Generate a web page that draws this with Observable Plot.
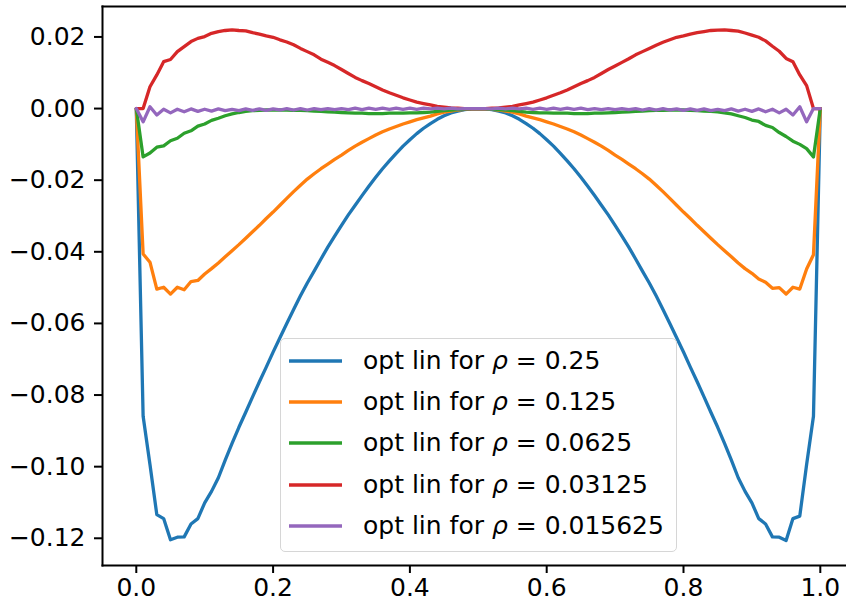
<!DOCTYPE html>
<html>
<head>
<meta charset="utf-8">
<script src="https://cdn.jsdelivr.net/npm/d3@7"></script>
<script src="https://cdn.jsdelivr.net/npm/@observablehq/plot@0.6"></script>
<style>
  html, body { margin: 0; padding: 0; background: #fff; }
  #wrap { position: relative; width: 846px; height: 601px; font-family: "DejaVu Sans", sans-serif; }
  #legend { position: absolute; left: 280px; top: 338px; width: 395px; height: 212px;
            border: 1.6px solid #d6d6d6; border-radius: 5px; background: rgba(255,255,255,0.85); }
  .row { position: absolute; left: 0; height: 30px; }
  .row svg { position: absolute; left: 7px; top: 0; }
  .row span { position: absolute; left: 82px; top: 0; white-space: nowrap; font-size: 25px; color: #000; line-height: 30px; }
</style>
</head>
<body>
<div id="wrap"><div id="legend"></div></div>
<script>
const xs = [0,0.01,0.02,0.03,0.04,0.05,0.06,0.07,0.08,0.09,
0.1,0.11,0.12,0.13,0.14,0.15,0.16,0.17,0.18,0.19,
0.2,0.21,0.22,0.23,0.24,0.25,0.26,0.27,0.28,0.29,
0.3,0.31,0.32,0.33,0.34,0.35,0.36,0.37,0.38,0.39,
0.4,0.41,0.42,0.43,0.44,0.45,0.46,0.47,0.48,0.49,
0.5,
0.51,0.52,0.53,0.54,0.55,0.56,0.57,0.58,0.59,0.6,
0.61,0.62,0.63,0.64,0.65,0.66,0.67,0.68,0.69,0.7,
0.71,0.72,0.73,0.74,0.75,0.76,0.77,0.78,0.79,0.8,
0.81,0.82,0.83,0.84,0.85,0.86,0.87,0.88,0.89,0.9,
0.91,0.92,0.93,0.94,0.95,0.96,0.97,0.98,0.99,1.0];

const rho025 = [0,-0.0859,-0.0994,-0.1134,-0.1145,-0.1204,-0.1197,-0.1196,-0.1160,-0.1145,
-0.1101,-0.1069,-0.1031,-0.0982,-0.0935,-0.0890,-0.0848,-0.0805,-0.0763,-0.0722,
-0.0680,-0.0640,-0.0600,-0.0561,-0.0523,-0.0487,-0.0454,-0.0420,-0.0387,-0.0356,
-0.0326,-0.0297,-0.0270,-0.0243,-0.0217,-0.0192,-0.0168,-0.0146,-0.0125,-0.0105,
-0.0087,-0.0070,-0.0055,-0.0042,-0.0030,-0.0020,-0.0012,-0.0007,-0.0003,-0.0001,
0,
-0.0001,-0.0003,-0.0007,-0.0012,-0.0020,-0.0030,-0.0042,-0.0055,-0.0070,-0.0087,
-0.0105,-0.0125,-0.0146,-0.0168,-0.0192,-0.0217,-0.0243,-0.0270,-0.0297,-0.0326,
-0.0356,-0.0387,-0.0420,-0.0454,-0.0487,-0.0523,-0.0561,-0.0600,-0.0640,-0.0680,
-0.0722,-0.0763,-0.0805,-0.0848,-0.0890,-0.0935,-0.0982,-0.1031,-0.1069,-0.1101,
-0.1145,-0.1160,-0.1196,-0.1197,-0.1206,-0.1145,-0.1138,-0.0994,-0.0859,0];

const rho0125 = [0,-0.0406,-0.0429,-0.0504,-0.0499,-0.0518,-0.0499,-0.0506,-0.0483,-0.0480,
-0.0462,-0.0447,-0.0431,-0.0414,-0.0397,-0.0380,-0.0362,-0.0344,-0.0326,-0.0307,
-0.0289,-0.0270,-0.0251,-0.0232,-0.0214,-0.0197,-0.0182,-0.0168,-0.0155,-0.0142,
-0.0130,-0.0117,-0.0105,-0.0094,-0.0084,-0.0074,-0.0065,-0.0057,-0.0050,-0.0043,
-0.0037,-0.0031,-0.0026,-0.0021,-0.0015,-0.0010,-0.0007,-0.0004,-0.0002,-0.0001,
0,
-0.0001,-0.0002,-0.0004,-0.0007,-0.0010,-0.0015,-0.0021,-0.0026,-0.0031,-0.0037,
-0.0043,-0.0050,-0.0057,-0.0065,-0.0074,-0.0084,-0.0094,-0.0105,-0.0117,-0.0130,
-0.0142,-0.0155,-0.0168,-0.0182,-0.0197,-0.0214,-0.0232,-0.0251,-0.0270,-0.0289,
-0.0307,-0.0326,-0.0344,-0.0362,-0.0380,-0.0397,-0.0414,-0.0431,-0.0447,-0.0460,
-0.0476,-0.0485,-0.0502,-0.0500,-0.0518,-0.0499,-0.0504,-0.0448,-0.0408,0];

const rho00625 = [0,-0.0135,-0.0124,-0.0108,-0.0104,-0.0090,-0.0083,-0.0069,-0.0062,-0.0049,
-0.0043,-0.0033,-0.0027,-0.0020,-0.0015,-0.0011,-0.0008,-0.0006,-0.0005,-0.0004,
-0.0004,-0.0004,-0.0004,-0.0005,-0.0005,-0.0006,-0.0007,-0.0008,-0.0009,-0.0010,
-0.0011,-0.0012,-0.0013,-0.0013,-0.0014,-0.0014,-0.0014,-0.0013,-0.0013,-0.0013,
-0.0012,-0.0012,-0.0011,-0.0010,-0.0008,-0.0006,-0.0004,-0.0003,-0.0002,-0.0001,
0,
-0.0001,-0.0002,-0.0003,-0.0004,-0.0006,-0.0008,-0.0010,-0.0011,-0.0012,-0.0012,
-0.0013,-0.0013,-0.0013,-0.0014,-0.0014,-0.0014,-0.0013,-0.0013,-0.0012,-0.0011,
-0.0010,-0.0009,-0.0008,-0.0007,-0.0006,-0.0005,-0.0005,-0.0004,-0.0004,-0.0004,
-0.0005,-0.0006,-0.0007,-0.0008,-0.0009,-0.0012,-0.0015,-0.0020,-0.0025,-0.0032,
-0.0036,-0.0047,-0.0053,-0.0067,-0.0078,-0.0091,-0.0100,-0.0112,-0.0135,0];

const rho003125 = [0,0,0.0061,0.0094,0.0131,0.0137,0.0159,0.0173,0.0187,0.0196,
0.0201,0.0210,0.0215,0.0218,0.0220,0.0218,0.0217,0.0212,0.0208,0.0203,
0.0199,0.0192,0.0186,0.0178,0.0168,0.0159,0.0150,0.0138,0.0129,0.0120,
0.0109,0.0098,0.0087,0.0078,0.0070,0.0061,0.0052,0.0044,0.0037,0.0030,
0.0024,0.0018,0.0014,0.0010,0.0006,0.0004,0.0002,0.0001,0,0,
0,
0,0.0001,0.0002,0.0004,0.0006,0.0010,0.0014,0.0018,0.0024,0.0030,
0.0037,0.0044,0.0052,0.0061,0.0070,0.0078,0.0087,0.0098,0.0109,0.0119,
0.0129,0.0139,0.0150,0.0159,0.0168,0.0177,0.0185,0.0192,0.0199,0.0203,
0.0208,0.0212,0.0215,0.0218,0.0219,0.0220,0.0218,0.0216,0.0211,0.0205,
0.0199,0.0189,0.0174,0.0160,0.0140,0.0131,0.0094,0.0064,0,0];

const rho0015625 = [0,-0.0037,0.0005,-0.0018,-0.0002,-0.0012,-0.0002,-0.0009,-0.0001,-0.0008,
-0.0002,-0.0007,-0.0001,-0.0006,-0.0002,-0.0006,-0.0001,-0.0005,-0.0001,-0.0005,
-0.0001,-0.0004,0,-0.0004,0,-0.0004,0,-0.0003,0,-0.0003,
0,-0.0003,0.0001,-0.0003,0.0001,-0.0002,0.0001,-0.0002,0.0001,-0.0002,
0.0001,-0.0002,0.0001,-0.0001,0.0001,-0.0001,0.0001,-0.0001,0,0,
0,
0,-0.0001,0.0001,-0.0001,0.0001,-0.0001,0.0001,-0.0002,0.0001,-0.0002,
0.0001,-0.0002,0.0001,-0.0002,0.0001,-0.0003,0,-0.0003,0,-0.0003,
0,-0.0003,0,-0.0004,0,-0.0004,0,-0.0004,-0.0001,-0.0005,
-0.0001,-0.0005,-0.0001,-0.0006,-0.0002,-0.0006,-0.0001,-0.0007,-0.0002,-0.0008,
-0.0001,-0.0009,-0.0002,-0.0012,-0.0002,-0.0018,0.0005,-0.0037,0,0];

const seriesLabels = ["0.25", "0.125", "0.0625", "0.03125", "0.015625"];
const seriesValues = [rho025, rho0125, rho00625, rho003125, rho0015625];
const seriesColors = ["#1f77b4", "#ff7f0e", "#2ca02c", "#d62728", "#9467bd"];
const xTicks = [0, 0.2, 0.4, 0.6, 0.8, 1.0];
const yTicks = [-0.12, -0.10, -0.08, -0.06, -0.04, -0.02, 0.00, 0.02];

const rows = seriesLabels.flatMap((lab, k) =>
  xs.map((x, i) => ({x, y: seriesValues[k][i], series: lab})));

const chart = Plot.plot({
  width: 846, height: 601,
  marginLeft: 102, marginRight: 0, marginTop: 6, marginBottom: 36,
  style: {fontFamily: "DejaVu Sans", fontSize: "25px", color: "#000", background: "#fff"},
  x: {domain: [-0.0494, 1.0383], label: null},
  y: {domain: [-0.1276, 0.0285], label: null},
  color: {domain: seriesLabels, range: seriesColors},
  marks: [
    Plot.line(rows, {x: "x", y: "y", stroke: "series", strokeWidth: 3.3, strokeLinejoin: "round"}),
    Plot.frame({anchor: "left", stroke: "#000", strokeWidth: 2}),
    Plot.frame({anchor: "top", stroke: "#000", strokeWidth: 2}),
    Plot.frame({anchor: "bottom", stroke: "#000", strokeWidth: 2}),
    Plot.axisX({ticks: xTicks, tickFormat: d3.format(".1f"), tickSize: 8, tickPadding: 5, strokeWidth: 2, label: null}),
    Plot.axisY({ticks: yTicks, tickFormat: d3.format(".2f"), tickSize: 8, tickPadding: 9, strokeWidth: 2, label: null})
  ]
});
document.getElementById("wrap").prepend(chart);

const legend = document.getElementById("legend");
seriesLabels.forEach((lab, k) => {
  const row = document.createElement("div");
  row.className = "row";
  row.style.top = (6.7 + k * 41.3) + "px";
  row.innerHTML = `<svg width="56" height="30"><line x1="1" x2="54" y1="15" y2="15" stroke="${seriesColors[k]}" stroke-width="3.3"/></svg>` +
    `<span>opt lin for <i>ρ</i> = ${lab}</span>`;
  legend.appendChild(row);
});
</script>
</body>
</html>
